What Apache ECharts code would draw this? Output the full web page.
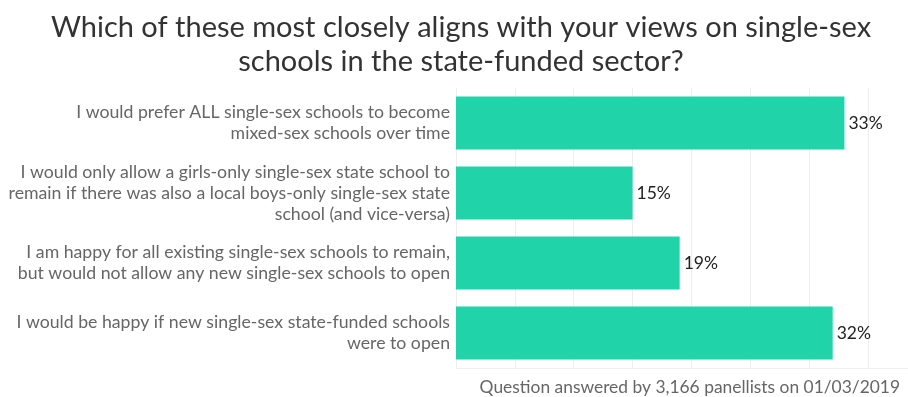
<!DOCTYPE html>
<html>
<head>
<meta charset="utf-8">
<script src="https://cdn.jsdelivr.net/npm/echarts@6/dist/echarts.min.js"></script>
<style>
  html, body { margin: 0; padding: 0; background: #fff; }
  #chart { width: 908px; height: 397px; }
</style>
</head>
<body>
<div id="chart"></div>
<script>
// answers, top to bottom
var categories = [
  "I would prefer ALL single-sex schools to become\nmixed-sex schools over time",
  "I would only allow a girls-only single-sex state school to\nremain if there was also a local boys-only single-sex state\nschool (and vice-versa)",
  "I am happy for all existing single-sex schools to remain,\nbut would not allow any new single-sex schools to open",
  "I would be happy if new single-sex state-funded schools\nwere to open"
];
var percents = [33, 15, 19, 32];

var chart = echarts.init(document.getElementById("chart"));

var option = {
  animation: false,
  textStyle: { fontFamily: "Lato" },
  title: [
    {
      text: "Which of these most closely aligns with your views on single-sex\nschools in the state-funded sector?",
      left: 456,
      top: 6,
      textAlign: "center",
      textStyle: { fontFamily: "Lato", fontSize: 29, fontWeight: "normal", color: "#333", lineHeight: 34 }
    },
    {
      text: "Question answered by 3,166 panellists on 01/03/2019",
      right: 3,
      top: 374,
      textStyle: { fontFamily: "Lato", fontSize: 17.4, fontWeight: "normal", color: "#666" }
    }
  ],
  grid: { left: 456, right: 0, top: 88, bottom: 29, containLabel: false },
  xAxis: {
    type: "value",
    min: 0,
    max: 38.4,
    interval: 5,
    axisLabel: { show: false },
    axisTick: { show: false },
    axisLine: { show: true, lineStyle: { color: "#eee" } },
    splitLine: { show: true, lineStyle: { color: "#eee" } }
  },
  yAxis: {
    type: "category",
    inverse: true,
    data: categories,
    axisLine: { show: false },
    axisTick: { show: false },
    axisLabel: {
      margin: 6,
      fontFamily: "Lato",
      fontSize: 17.7,
      lineHeight: 21,
      color: "#666",
      align: "right"
    }
  },
  series: [{
    type: "bar",
    data: percents,
    barWidth: 53,
    itemStyle: { color: "#20d3a9" },
    label: {
      show: true,
      position: "right",
      distance: 4,
      formatter: "{c}%",
      fontFamily: "Lato",
      fontSize: 17.5,
      color: "#222"
    }
  }]
};

chart.setOption(option);
</script>
</body>
</html>
